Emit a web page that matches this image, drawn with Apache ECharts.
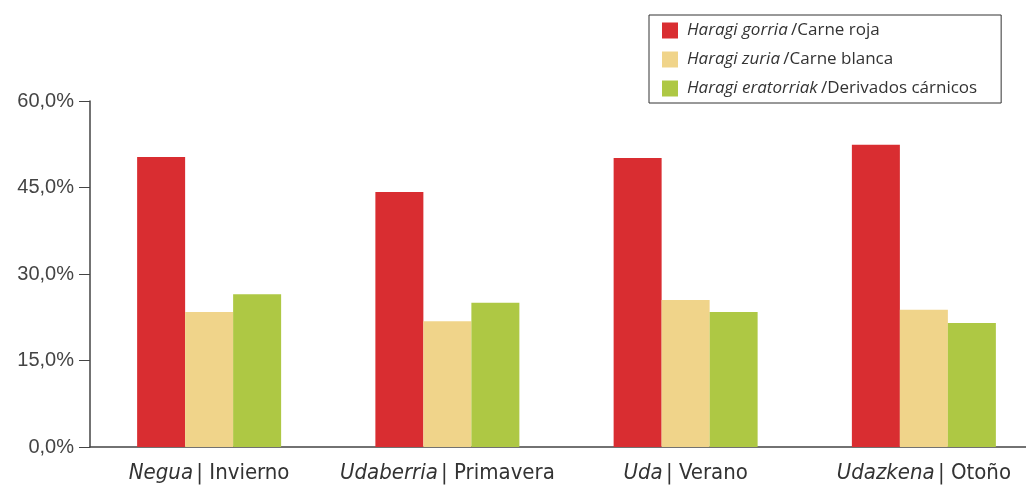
<!DOCTYPE html>
<html>
<head>
<meta charset="utf-8">
<script src="https://cdn.jsdelivr.net/npm/echarts@6/dist/echarts.min.js"></script>
<style>
  html, body { margin: 0; padding: 0; background: #fff; }
  #chart { width: 1026px; height: 486px; }
</style>
</head>
<body>
<div id="chart"></div>
<script>
// seasons: basque / spanish
var seasonsEu = ['Negua', 'Udaberria', 'Uda', 'Udazkena'];
var seasonsEs = ['Invierno', 'Primavera', 'Verano', 'Otoño'];

var seriesEu = ['Haragi gorria', 'Haragi zuria', 'Haragi eratorriak'];
var seriesEs = ['Carne roja', 'Carne blanca', 'Derivados cárnicos'];

// percentages
var carneRoja = [50.3, 44.2, 50.1, 52.4];
var carneBlanca = [23.4, 21.8, 25.5, 23.8];
var derivados = [26.5, 25.0, 23.4, 21.5];

var yTicks = [0, 15, 30, 45, 60];

var colors = ['#d92d31', '#f0d48a', '#aec844'];
var values = [carneRoja, carneBlanca, derivados];

var categories = seasonsEu.map(function (eu, i) { return eu + '|' + seasonsEs[i]; });
var seriesNames = seriesEu.map(function (eu, i) { return eu + '|' + seriesEs[i]; });

var condensed = "'DejaVu Sans Condensed', 'Roboto Condensed', Roboto, sans-serif";

var chart = echarts.init(document.getElementById('chart'));
chart.setOption({
  animation: false,
  color: colors,
  // the last category runs past the right edge in the original
  grid: { left: 90, width: 953, top: 101, bottom: 39, outerBoundsMode: 'none' },
  legend: {
    orient: 'vertical',
    left: 649,
    top: 15,
    padding: [7, 24, 6, 13],
    borderColor: '#333',
    borderWidth: 1,
    itemWidth: 16,
    itemHeight: 16,
    itemGap: 12,
    icon: 'rect',
    data: seriesNames,
    formatter: function (name) {
      var p = name.split('|');
      return '{i|' + p[0] + '} {n|/' + p[1] + '}';
    },
    textStyle: {
      rich: {
        i: { fontFamily: 'Open Sans', fontStyle: 'italic', fontSize: 17, color: '#333', padding: [0, 0, 0, 4] },
        n: { fontFamily: 'Open Sans', fontSize: 17, color: '#333' }
      }
    }
  },
  xAxis: {
    type: 'category',
    data: categories,
    axisLine: { lineStyle: { color: '#444', width: 1.5 } },
    axisTick: { length: 12, lineStyle: { color: '#444' } },
    axisLabel: {
      margin: 15,
      formatter: function (v) {
        var p = v.split('|');
        return '{i|' + p[0] + '} {n|| ' + p[1] + '}';
      },
      rich: {
        i: { fontFamily: condensed, fontStyle: 'italic', fontSize: 22, color: '#333' },
        n: { fontFamily: condensed, fontSize: 22, color: '#333' }
      }
    }
  },
  yAxis: {
    type: 'value',
    min: yTicks[0],
    max: yTicks[yTicks.length - 1],
    interval: yTicks[1] - yTicks[0],
    splitLine: { show: false },
    axisLine: { show: true, lineStyle: { color: '#444', width: 1.5 } },
    axisTick: { show: true, length: 11, lineStyle: { color: '#444' } },
    axisLabel: {
      margin: 16,
      fontFamily: 'Liberation Sans',
      fontSize: 20,
      color: '#444',
      formatter: function (v) { return v.toFixed(1).replace('.', ',') + '%'; }
    }
  },
  series: seriesNames.map(function (name, i) {
    return {
      name: name,
      type: 'bar',
      barWidth: 48,
      barGap: '0%',
      data: values[i]
    };
  })
});
</script>
</body>
</html>
